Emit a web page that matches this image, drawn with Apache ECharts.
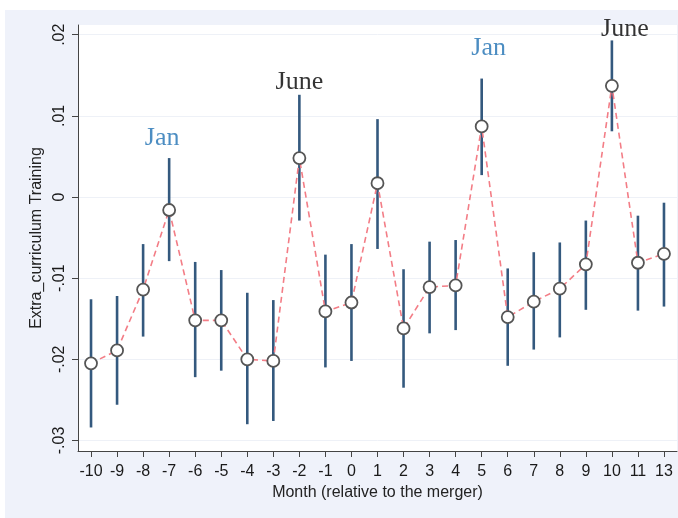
<!DOCTYPE html>
<html>
<head>
<meta charset="utf-8">
<script src="https://cdn.jsdelivr.net/npm/echarts@6/dist/echarts.min.js"></script>
<style>html,body{margin:0;padding:0;background:#fff}#c{width:678px;height:518px}</style>
</head>
<body>
<div id="c"></div>
<script>
// ---- data ----
const categories = ['-10','-9','-8','-7','-6','-5','-4','-3','-2','-1','0','1','2','3','4','5','6','7','8','9','10','11','13'];
const estimate = [-0.0205,-0.0189,-0.0114,-0.0016,-0.0152,-0.0152,-0.0200,-0.0202,0.0048,-0.0141,-0.0130,0.0017,-0.0162,-0.0111,-0.0109,0.0087,-0.0148,-0.0129,-0.0113,-0.0083,0.0137,-0.0081,-0.0070];
const ciLow  = [-0.0284,-0.0256,-0.0172,-0.0079,-0.0222,-0.0214,-0.0280,-0.0276,-0.0029,-0.0210,-0.0202,-0.0064,-0.0235,-0.0168,-0.0164,0.0027,-0.0208,-0.0188,-0.0173,-0.0139,0.0081,-0.0140,-0.0135];
const ciHigh = [-0.0126,-0.0122,-0.0058,0.0048,-0.0080,-0.0090,-0.0118,-0.0127,0.0126,-0.0071,-0.0058,0.0096,-0.0089,-0.0055,-0.0053,0.0146,-0.0088,-0.0068,-0.0056,-0.0029,0.0193,-0.0023,-0.0007];
const yTicks = [-0.03,-0.02,-0.01,0,0.01,0.02];
const annoCats = ['-7','-2','5','10'];
const annoTexts = ['Jan','June','Jan','June'];
const annoY = [0.0073,0.0142,0.0184,0.0207];

// ---- styles ----
const annoColors = {Jan:'#1f70b3', June:'#000000'};
const annoOffsetX = [-7,0,7,13];
const FONT = 'Liberation Sans';

function fmt(v){
  if (Math.abs(v) < 1e-9) return '0';
  let s = v.toFixed(2);
  return s.replace('0.', '.');
}

const chart = echarts.init(document.getElementById('c'), null, {renderer:'canvas'});
chart.setOption({
  backgroundColor:'#ffffff',
  animation:false,
  graphic:[{type:'rect', z:-100, silent:true, shape:{x:5,y:10,width:673,height:508}, style:{fill:'#eff2fa'}}],
  grid:{left:78, right:1, top:25, bottom:67, show:true, backgroundColor:'#ffffff', borderWidth:0, z:0},
  xAxis:{
    type:'category', data:categories, boundaryGap:true,
    name:'Month (relative to the merger)', nameLocation:'middle', nameGap:32,
    nameTextStyle:{fontFamily:FONT, fontSize:16, color:'#222'},
    axisLine:{show:true, onZero:false, lineStyle:{color:'#444', width:1}},
    axisTick:{show:true, alignWithLabel:true, length:6, lineStyle:{color:'#444'}},
    axisLabel:{interval:0, fontFamily:FONT, fontSize:16, color:'#1a1a1a', margin:13},
    splitLine:{show:false}
  },
  yAxis:{
    type:'value', min:-0.0313, max:0.0212,
    name:'Extra_curriculum Training', nameLocation:'middle', nameGap:33,
    nameTextStyle:{fontFamily:FONT, fontSize:16, color:'#222'},
    axisLine:{show:true, lineStyle:{color:'#444', width:1}},
    axisTick:{show:true, length:6, customValues:yTicks, lineStyle:{color:'#444'}},
    axisLabel:{customValues:yTicks, rotate:90, fontFamily:FONT, fontSize:16, color:'#1a1a1a', margin:10, formatter:fmt},
    splitLine:{show:true, lineStyle:{color:'#eef1f7', width:1}}
  },
  series:[
    {
      type:'custom', z:2,
      data: categories.map((c,i)=>[i, ciLow[i], ciHigh[i]]),
      encode:{x:0, y:[1,2]},
      renderItem:function(params, api){
        const p1 = api.coord([api.value(0), api.value(1)]);
        const p2 = api.coord([api.value(0), api.value(2)]);
        return {type:'line', shape:{x1:p1[0], y1:p1[1], x2:p2[0], y2:p2[1]},
                style:{stroke:'#34597e', lineWidth:2.6}};
      }
    },
    {
      type:'line', z:3, data:estimate,
      symbol:'circle', symbolSize:12,
      itemStyle:{color:'#ffffff', borderColor:'#555555', borderWidth:1.8},
      lineStyle:{color:'#f37d86', width:1.6, type:[6,4]}
    },
    {
      type:'scatter', z:4, symbolSize:1, itemStyle:{color:'rgba(0,0,0,0)'},
      data: annoCats.map((c,i)=>({
        value:[c, annoY[i]], name:annoTexts[i],
        label:{show:true, position:'inside', formatter:annoTexts[i], offset:[annoOffsetX[i],0],
               color:annoColors[annoTexts[i]], fontFamily:'Liberation Serif', fontSize:26}
      }))
    }
  ]
});
</script>
</body>
</html>
